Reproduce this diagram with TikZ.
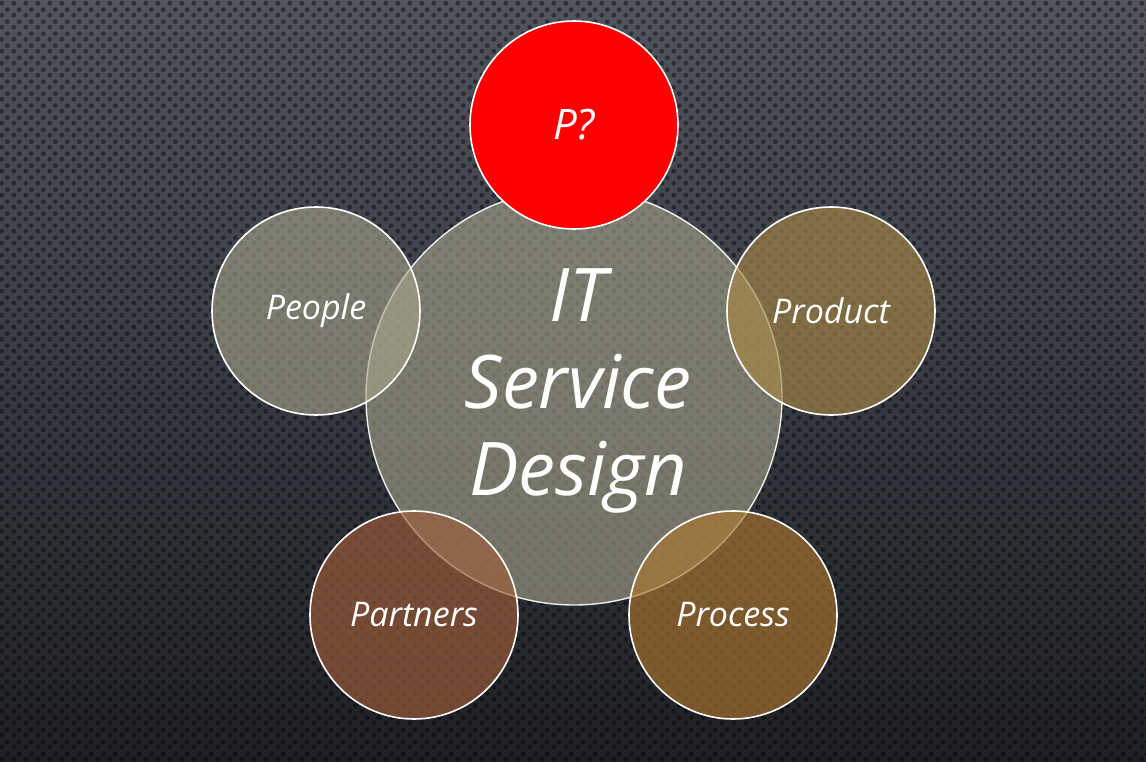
\documentclass[tikz,border=0pt]{standalone}
\usepackage{fontspec}
\setmainfont{Open Sans}
\usetikzlibrary{patterns.meta}
\tikzdeclarepattern{
  name=bgdots,
  type=uncolored,
  bottom left={(0pt,0pt)},
  top right={(12pt,12pt)},
  tile size={(12pt,12pt)},
  code={
    \fill (3pt,3pt) circle[radius=2.6pt];
    \fill (9pt,9pt) circle[radius=2.6pt];
  }
}
\definecolor{bgtop}{RGB}{80,85,94}
\definecolor{bgbot}{RGB}{30,32,36}
\definecolor{sage}{RGB}{168,166,140}
\definecolor{gold}{RGB}{168,136,70}
\definecolor{ochre}{RGB}{172,118,48}
\definecolor{rust}{RGB}{160,94,58}
\definecolor{pred}{RGB}{255,0,0}
\tikzset{
  ring/.style={circle, draw=white, line width=1.6pt, minimum size=208pt, inner sep=0pt,
    text=white, text opacity=1, font=\itshape\fontsize{34}{40}\selectfont},
  bigring/.style={ring, minimum size=416pt, line width=1.4pt, draw opacity=0.9},
  label/.style={text=white, inner sep=0pt}
}
\begin{document}
\begin{tikzpicture}[x=1pt,y=-1pt]
\useasboundingbox (0,0) rectangle (1146,762);
\shade[top color=bgtop, bottom color=bgbot] (0,0) rectangle (1146,762);
\fill[pattern=bgdots, pattern color=black, fill opacity=0.42] (0,0) rectangle (1146,762);
% central circle
\node[bigring, fill=sage, fill opacity=0.6] (core) at (574,397) {};
\node[label, align=center, font=\itshape\fontsize{74}{87}\selectfont] (coretext) at (578,391) {IT\\Service\\Design};
% satellites
\node[ring, fill=pred, font=\itshape\fontsize{42}{48}\selectfont] (pq) at (574,125) {P?};
\node[ring, fill=sage, fill opacity=0.6] (people) at (316,311) {People};
\node[ring, fill=gold, fill opacity=0.65] (product) at (831,311) {Product};
\node[ring, fill=rust, fill opacity=0.65] (partners) at (414,615) {Partners};
\node[ring, fill=ochre, fill opacity=0.65] (process) at (733,615) {Process};
\end{tikzpicture}
\end{document}
